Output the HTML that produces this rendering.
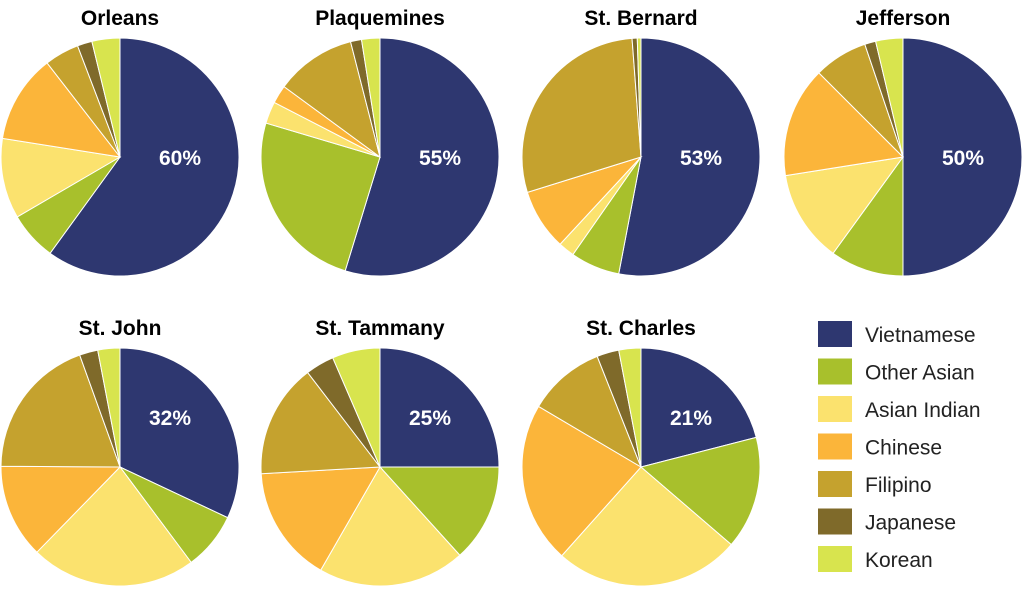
<!DOCTYPE html>
<html><head><meta charset="utf-8"><style>
body{margin:0;background:#fff;}
svg text{font-family:"Liberation Sans",sans-serif;}
</style></head><body>
<svg id="c" width="1024" height="587" viewBox="0 0 1024 587"></svg>
<script>
const categories=["Vietnamese","Other Asian","Asian Indian","Chinese","Filipino","Japanese","Korean"];
const colors=["#2e3770","#a8c02c","#fbe26e","#fbb53a","#c5a22e","#7f6a2a","#d8e44e"];
const parishes=["Orleans","Plaquemines","St. Bernard","Jefferson","St. John","St. Tammany","St. Charles"];
const orleans=[60,6.6,10.9,12,4.7,2,3.8];
const plaquemines=[55,25,3,2.5,11,1.5,2.5];
const stBernard=[53,6.7,2.2,8.3,28.6,0.7,0.5];
const jefferson=[50,10,12.5,15,7.3,1.5,3.7];
const stJohn=[32,7.8,22.5,12.8,19.4,2.5,3];
const stTammany=[25,13.3,20,15.8,15.5,3.9,6.5];
const stCharles=[21,15.3,25.3,21.9,10.5,3,3];
const labels=["60%","55%","53%","50%","32%","25%","21%"];
const series=[orleans,plaquemines,stBernard,jefferson,stJohn,stTammany,stCharles];
const NS="http://www.w3.org/2000/svg";
const svg=document.getElementById('c');
const cxs=[120,380,641,903], cys=[157,467], R=119;
function mk(t,a){const e=document.createElementNS(NS,t);for(const k in a)e.setAttribute(k,a[k]);svg.appendChild(e);return e;}
series.forEach((vals,i)=>{
  const row=Math.floor(i/4);
  const cx=cxs[i%4], cy=cys[row];
  const tot=vals.reduce((a,b)=>a+b,0);
  let a0=0;
  vals.forEach((v,j)=>{
    const a1=a0+v/tot*2*Math.PI;
    const x0=cx+R*Math.sin(a0),y0=cy-R*Math.cos(a0),x1=cx+R*Math.sin(a1),y1=cy-R*Math.cos(a1);
    const large=(a1-a0)>Math.PI?1:0;
    const p=mk('path',{d:`M${cx},${cy}L${x0},${y0}A${R},${R} 0 ${large} 1 ${x1},${y1}Z`,fill:colors[j],stroke:'#fff','stroke-width':1});
    
    
    a0=a1;
  });
  const t=mk('text',{x:cx,y:cy-132,'text-anchor':'middle','font-size':21,'font-weight':'bold',fill:'#000'});
  t.textContent=parishes[i];
  
  
  const lx=row===0?cx+60:cx+50, ly=row===0?cy+8:cy-42;
  const l=mk('text',{x:lx,y:ly,'text-anchor':'middle','font-size':21,'font-weight':'bold',fill:'#fff'});
  l.textContent=labels[i];
  
  
});
categories.forEach((c,j)=>{
  const y=321+j*37.5;
  const r=mk('rect',{x:818,y:y,width:34,height:26,fill:colors[j]});
  
  
  const t=mk('text',{x:865,y:y+21,'font-size':21,fill:'#222'});
  t.textContent=c;
  
  
});
</script>
</body></html>
